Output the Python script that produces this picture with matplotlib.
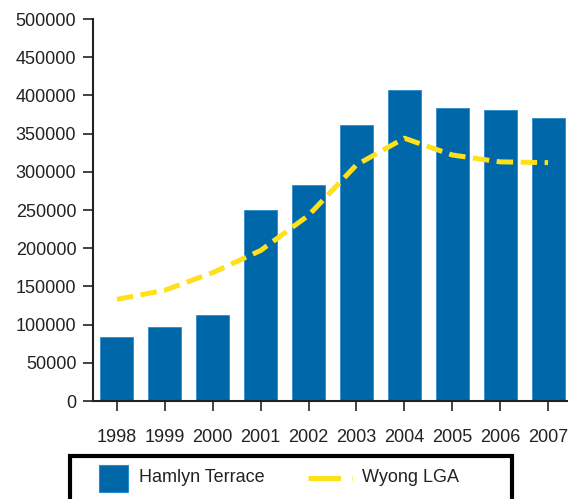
import matplotlib.pyplot as plt
from matplotlib.patches import Rectangle
from matplotlib.lines import Line2D

years = ['1998', '1999', '2000', '2001', '2002', '2003', '2004', '2005', '2006', '2007']
hamlyn = [84000, 97000, 112000, 250000, 283000, 361000, 407000, 384000, 381000, 371000]
wyong = [133000, 145000, 168000, 197000, 243000, 309000, 344000, 322000, 313000, 312000]

blue = '#0068a8'
yellow = '#ffe01b'
W, H = 568, 499

plt.rcParams['font.family'] = 'Liberation Sans'
fig = plt.figure(figsize=(5.68, 4.99), dpi=100)
ax = fig.add_axes([93 / W, 1 - 401 / H, (572 - 93) / W, (401 - 19) / H])

x = list(range(len(years)))
ax.bar(x, hamlyn, width=0.69, color=blue, edgecolor='#2a8ccc', linewidth=0.6)
ax.plot(x, wyong, color=yellow, lw=3.6, dashes=(3.3, 1.5), solid_capstyle='butt')

ax.set_xlim(-0.5, 9.5)
ax.set_ylim(0, 500000)
ax.set_yticks(range(0, 500001, 50000))
ax.set_yticklabels([str(v) for v in range(0, 500001, 50000)])
ax.set_xticks(x)
ax.set_xticklabels(years)
ax.tick_params(axis='both', length=7, width=1.2, labelsize=13, colors='#222222')
ax.tick_params(axis='x', pad=13)
ax.tick_params(axis='y', pad=5)
for s in ['top', 'right']:
    ax.spines[s].set_visible(False)
for s in ['left', 'bottom']:
    ax.spines[s].set_linewidth(1.5)
    ax.spines[s].set_color('#222222')

# legend, drawn by hand; its box is cut off by the bottom of the image
fig.add_artist(Rectangle((70 / W, -0.05), (512 - 70) / W, 0.05 + 1 - 456 / H,
                         transform=fig.transFigure, fill=False, lw=3, ec='black'))
fig.add_artist(Rectangle((99 / W, 1 - 492 / H), 29 / W, 27 / H, transform=fig.transFigure,
                         fc=blue, ec='#2a8ccc', lw=0.8))
fig.text(139 / W, 1 - 478 / H, 'Hamlyn Terrace', fontsize=13, va='center', color='#222222')
fig.add_artist(Line2D([308 / W, 352 / W], [1 - 478 / H] * 2, transform=fig.transFigure,
                      color=yellow, lw=3.6, dashes=(6.5, 2.2)))
fig.text(362 / W, 1 - 478 / H, 'Wyong LGA', fontsize=13, va='center', color='#222222')

fig.savefig('out.png', dpi=100)
